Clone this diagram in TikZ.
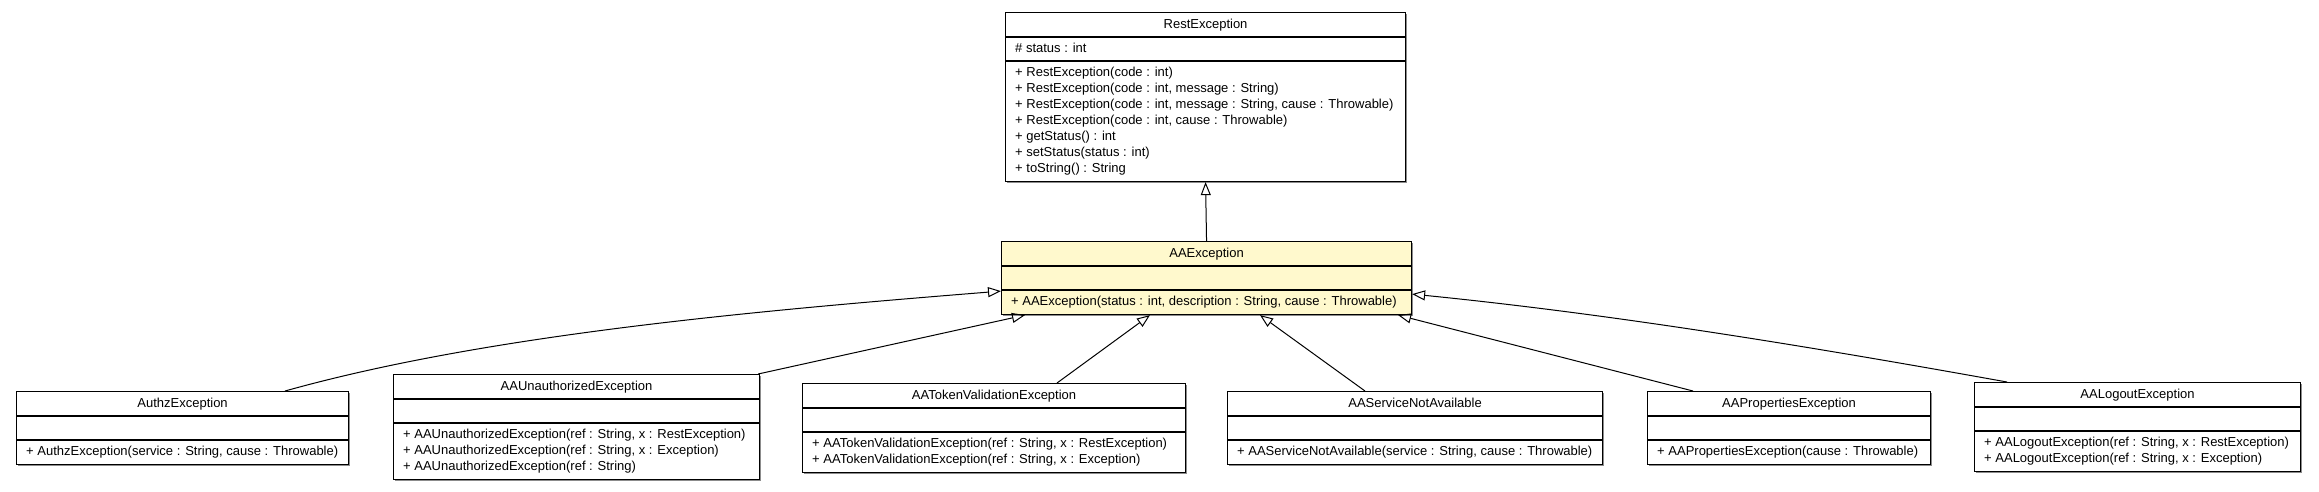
\documentclass[tikz,border=0pt]{standalone}
\usepackage{fontspec}
\setmainfont{Liberation Sans}
\usetikzlibrary{arrows.meta,shadows}
\definecolor{aayellow}{RGB}{255,249,205}
\tikzset{
  umlbox/.style={draw=black, line width=1.1pt, fill=white, anchor=north west, inner sep=0pt,
    drop shadow={shadow xshift=1.5pt, shadow yshift=-1.5pt, fill=black!45, opacity=1}},
  sepline/.style={draw=black, line width=1.1pt},
  txt/.style={font=\fontsize{13}{16}\selectfont, inner sep=0pt, text=black},
  inh/.style={draw=black, line width=1pt, -{Triangle[open, width=10pt, length=13pt, line width=1pt]}},
}
% #1 extra style, #2 name, #3 x1, #4 x2, #5 top, #6 number of method lines, #7 title
\newcommand\umlcls[7][]{%
  \node[umlbox, #1, minimum width={(#4-#3)*1pt}, minimum height={(57+16*#6)*1pt}] (#2) at (#3,#5) {};
  \draw[sepline] ([shift={(0,25)}]#2.north west) -- ([shift={(0,25)}]#2.north east);
  \draw[sepline] ([shift={(0,49)}]#2.north west) -- ([shift={(0,49)}]#2.north east);
  \node[txt, anchor=base] (#2-title) at ([shift={(0,16)}]#2.north) {#7};
}
% #1 class, #2 node name, #3 baseline offset from top, #4 text
\newcommand\umlmem[4]{%
  \node[txt, anchor=base west] (#2) at ([shift={(10,#3)}]#1.north west) {#4};
}
\begin{document}
\begin{tikzpicture}[x=1pt, y=-1pt]
\fill[white] (0,0) rectangle (2319,491);
\useasboundingbox (0,0) rectangle (2319,491);

% RestException
\umlcls{rest}{1005}{1405}{12}{7}{RestException}
\umlmem{rest}{rest-a1}{40}{\# status : int}
\umlmem{rest}{rest-m1}{64}{+ RestException(code : int)}
\umlmem{rest}{rest-m2}{80}{+ RestException(code : int, message : String)}
\umlmem{rest}{rest-m3}{96}{+ RestException(code : int, message : String, cause : Throwable)}
\umlmem{rest}{rest-m4}{112}{+ RestException(code : int, cause : Throwable)}
\umlmem{rest}{rest-m5}{128}{+ getStatus() : int}
\umlmem{rest}{rest-m6}{144}{+ setStatus(status : int)}
\umlmem{rest}{rest-m7}{160}{+ toString() : String}

% AAException
\umlcls[fill=aayellow]{aa}{1001}{1411}{241}{1}{AAException}
\umlmem{aa}{aa-m1}{64}{+ AAException(status : int, description : String, cause : Throwable)}

% AuthzException
\umlcls{authz}{16}{348}{391}{1}{AuthzException}
\umlmem{authz}{authz-m1}{64}{+ AuthzException(service : String, cause : Throwable)}

% AAUnauthorizedException
\umlcls{unauth}{393}{759}{374}{3}{AAUnauthorizedException}
\umlmem{unauth}{unauth-m1}{64}{+ AAUnauthorizedException(ref : String, x : RestException)}
\umlmem{unauth}{unauth-m2}{80}{+ AAUnauthorizedException(ref : String, x : Exception)}
\umlmem{unauth}{unauth-m3}{96}{+ AAUnauthorizedException(ref : String)}

% AATokenValidationException
\umlcls{token}{802}{1185}{383}{2}{AATokenValidationException}
\umlmem{token}{token-m1}{64}{+ AATokenValidationException(ref : String, x : RestException)}
\umlmem{token}{token-m2}{80}{+ AATokenValidationException(ref : String, x : Exception)}

% AAServiceNotAvailable
\umlcls{service}{1227}{1602}{391}{1}{AAServiceNotAvailable}
\umlmem{service}{service-m1}{64}{+ AAServiceNotAvailable(service : String, cause : Throwable)}

% AAPropertiesException
\umlcls{props}{1647}{1930}{391}{1}{AAPropertiesException}
\umlmem{props}{props-m1}{64}{+ AAPropertiesException(cause : Throwable)}

% AALogoutException
\umlcls{logout}{1974}{2300}{382}{2}{AALogoutException}
\umlmem{logout}{logout-m1}{64}{+ AALogoutException(ref : String, x : RestException)}
\umlmem{logout}{logout-m2}{80}{+ AALogoutException(ref : String, x : Exception)}

% generalizations
\draw[inh] (aa.north) -- (rest.south);
\draw[inh] ([shift={(269,0)}]authz.north west) .. controls +(200,-56) and +(-250,20) .. ([shift={(0,-24)}]aa.south west);
\draw[inh] ([shift={(-2,0)}]unauth.north east) -- ([shift={(24,0)}]aa.south west);
\draw[inh] ([shift={(255,0)}]token.north west) -- ([shift={(149,0)}]aa.south west);
\draw[inh] ([shift={(138,0)}]service.north west) -- ([shift={(259,0)}]aa.south west);
\draw[inh] ([shift={(46,0)}]props.north west) -- ([shift={(-14,0)}]aa.south east);
\draw[inh] ([shift={(33,0)}]logout.north west) .. controls +(-200,-36) and +(200,20) .. ([shift={(0,-21)}]aa.south east);
\end{tikzpicture}
\end{document}
